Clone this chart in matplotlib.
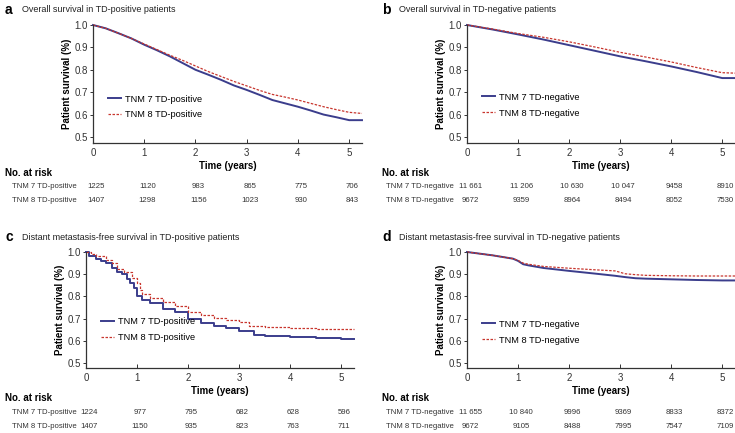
""" Kaplan-Meier curves, TNM 7 vs TNM 8 """
import matplotlib
matplotlib.use("Agg")
import matplotlib.pyplot as plt

plt.rcParams["font.family"] = ["Liberation Sans", "DejaVu Sans"]

W, H = 735, 433

# panel a: overall survival, TD-positive
os_pos_t = [0, 0.25, 0.5, 0.75, 1, 1.25, 1.5, 1.75, 2, 2.25, 2.5, 2.75, 3, 3.25, 3.5,
            3.75, 4, 4.25, 4.5, 4.75, 5, 5.25]
os_pos_tnm7 = [1.0, 0.985, 0.963, 0.94, 0.912, 0.887, 0.86, 0.83, 0.80, 0.778, 0.755,
               0.73, 0.71, 0.688, 0.665, 0.65, 0.635, 0.618, 0.60, 0.588, 0.575, 0.575]
os_pos_tnm8 = [1.0, 0.985, 0.963, 0.94, 0.915, 0.89, 0.865, 0.842, 0.817, 0.792, 0.77,
               0.748, 0.728, 0.708, 0.69, 0.678, 0.665, 0.65, 0.635, 0.622, 0.61, 0.605]

# panel b: overall survival, TD-negative
os_neg_t = [0, 0.5, 1, 1.5, 2, 2.5, 3, 3.5, 4, 4.5, 5, 5.25]
os_neg_tnm7 = [1.0, 0.98, 0.958, 0.935, 0.91, 0.885, 0.86, 0.838, 0.815, 0.79, 0.763, 0.763]
os_neg_tnm8 = [1.0, 0.982, 0.962, 0.945, 0.925, 0.902, 0.878, 0.857, 0.835, 0.81, 0.787, 0.785]

# panel c: distant metastasis-free survival, TD-positive
dm_pos_t7 = [0, 0.05, 0.2, 0.3, 0.4, 0.5, 0.6, 0.7, 0.8, 0.87, 0.95, 1.0, 1.1, 1.25,
             1.5, 1.75, 2.0, 2.25, 2.5, 2.75, 3.0, 3.3, 3.5, 4.0, 4.5, 5.0, 5.25]
dm_pos_tnm7 = [1.0, 0.98, 0.97, 0.96, 0.95, 0.93, 0.91, 0.90, 0.88, 0.86, 0.84, 0.80,
               0.785, 0.77, 0.745, 0.728, 0.70, 0.682, 0.668, 0.658, 0.645, 0.627,
               0.622, 0.617, 0.612, 0.608, 0.607]
dm_pos_t8 = [0, 0.1, 0.2, 0.4, 0.5, 0.6, 0.75, 0.9, 1.0, 1.05, 1.1, 1.25, 1.5, 1.75,
             2.0, 2.25, 2.5, 2.75, 3.0, 3.2, 3.5, 4.0, 4.5, 5.0, 5.25]
dm_pos_tnm8 = [1.0, 0.99, 0.98, 0.965, 0.95, 0.925, 0.91, 0.885, 0.86, 0.83, 0.81,
               0.795, 0.775, 0.755, 0.73, 0.715, 0.705, 0.695, 0.685, 0.668, 0.662,
               0.658, 0.655, 0.653, 0.653]

# panel d: distant metastasis-free survival, TD-negative
dm_neg_t = [0, 0.5, 0.9, 1.0, 1.1, 1.2, 1.5, 2.0, 2.5, 2.9, 3.1, 3.3, 3.5, 4.0, 4.5,
            5.0, 5.25]
dm_neg_tnm7 = [1.0, 0.985, 0.97, 0.96, 0.945, 0.94, 0.928, 0.915, 0.903, 0.893, 0.887,
               0.882, 0.88, 0.877, 0.874, 0.872, 0.872]
dm_neg_tnm8 = [1.0, 0.985, 0.97, 0.962, 0.95, 0.945, 0.935, 0.927, 0.92, 0.915, 0.902,
               0.898, 0.895, 0.893, 0.892, 0.892, 0.892]

# numbers at risk
risk_years = [0, 1, 2, 3, 4, 5]
risk_a = [[1225, 1120, 983, 865, 775, 706], [1407, 1298, 1156, 1023, 930, 843]]
risk_b = [["11 661", "11 206", "10 630", "10 047", 9458, 8910],
          [9672, 9359, 8964, 8494, 8052, 7530]]
risk_c = [[1224, 977, 795, 682, 628, 596], [1407, 1150, 935, 823, 763, 711]]
risk_d = [["11 655", "10 840", 9996, 9369, 8833, 8372],
          [9672, 9105, 8488, 7995, 7547, 7109]]

BLUE = "#3b3d8c"
RED = "#c8362e"


def fx(x):
  return x / W


def fy(y):
  return 1 - y / H


def draw_panel(fig, box, letter, title, t7, s7, t8, s8, steps, names, risk,
               ybottom, leg_y):
  """box = (left, top, right, bottom, text_left, row_label_left) in pixels"""
  left, top, right, bottom, tleft, rleft = box
  h_px = bottom - top
  ax = fig.add_axes([fx(left), fy(bottom), fx(right - left), h_px / H])
  ds = "steps-post" if steps else "default"
  ax.plot(t7, s7, color=BLUE, lw=1.4, drawstyle=ds, label=names[0], clip_on=False)
  ax.plot(t8, s8, color=RED, lw=0.9, ls=(0, (2, 1.2)), drawstyle=ds,
          label=names[1], clip_on=False)
  ax.set_xlim(0, 5.25)
  ax.set_ylim(ybottom, 1.0)
  ax.set_xticks(risk_years)
  ax.set_yticks([0.5, 0.6, 0.7, 0.8, 0.9, 1.0])
  ax.set_yticklabels(["0.5", "0.6", "0.7", "0.8", "0.9", "1.0"])
  ax.spines["top"].set_visible(False)
  ax.spines["right"].set_visible(False)
  for s in ["left", "bottom"]:
    ax.spines[s].set_linewidth(0.9)
    ax.spines[s].set_color("#333333")
  ax.tick_params(axis="x", direction="in", length=3, width=0.7, labelsize=7,
                 pad=3.5, colors="#333333")
  ax.tick_params(axis="y", direction="out", length=2.5, width=0.7, labelsize=7,
                 pad=1, colors="#333333")
  ax.set_xlabel("Time (years)", fontsize=7, fontweight="bold", labelpad=2)
  ax.set_ylabel("Patient survival (%)", fontsize=7, fontweight="bold", labelpad=2)
  ax.legend(loc="center left", bbox_to_anchor=(0.025, leg_y), frameon=False,
            fontsize=6.7, handlelength=1.4, handletextpad=0.45, labelspacing=0.75)

  # panel letter and title
  fig.text(fx(tleft), fy(top - 15), letter, fontsize=10, fontweight="bold",
           va="center", ha="left")
  fig.text(fx(tleft + 17), fy(top - 15), title, fontsize=6.5, va="center",
           ha="left", color="#222222")

  # risk table
  fig.text(fx(tleft), fy(bottom + 30), "No. at risk", fontsize=7,
           fontweight="bold", va="center", ha="left")
  for i, row in enumerate(risk):
    yy = bottom + 44 + i * 14
    fig.text(fx(rleft), fy(yy), names[i], fontsize=5.6, va="center",
             ha="left", color="#333333")
    for yr, val in zip(risk_years, row):
      ax.text(yr + 0.06, -(yy - bottom) / h_px, str(val),
              transform=ax.get_xaxis_transform(), fontsize=5.6, ha="center",
              va="center", color="#333333", clip_on=False)
  return ax


fig = plt.figure(figsize=(W / 100, H / 100), dpi=100)

panels = [
  ((93, 25, 362, 143, 5, 12), "a", "Overall survival in TD-positive patients",
   os_pos_t, os_pos_tnm7, os_pos_t, os_pos_tnm8, False,
   ["TNM 7 TD-positive", "TNM 8 TD-positive"], risk_a, 0.473, 0.305),
  ((467, 25, 735, 143, 382, 386), "b", "Overall survival in TD-negative patients",
   os_neg_t, os_neg_tnm7, os_neg_t, os_neg_tnm8, False,
   ["TNM 7 TD-negative", "TNM 8 TD-negative"], risk_b, 0.473, 0.32),
  ((86, 252, 354, 368, 5, 12), "c", "Distant metastasis-free survival in TD-positive patients",
   dm_pos_t7, dm_pos_tnm7, dm_pos_t8, dm_pos_tnm8, True,
   ["TNM 7 TD-positive", "TNM 8 TD-positive"], risk_c, 0.478, 0.33),
  ((467, 252, 735, 368, 382, 386), "d", "Distant metastasis-free survival in TD-negative patients",
   dm_neg_t, dm_neg_tnm7, dm_neg_t, dm_neg_tnm8, False,
   ["TNM 7 TD-negative", "TNM 8 TD-negative"], risk_d, 0.478, 0.31),
]

for p in panels:
  draw_panel(fig, *p)

fig.savefig("out.png", dpi=100)
